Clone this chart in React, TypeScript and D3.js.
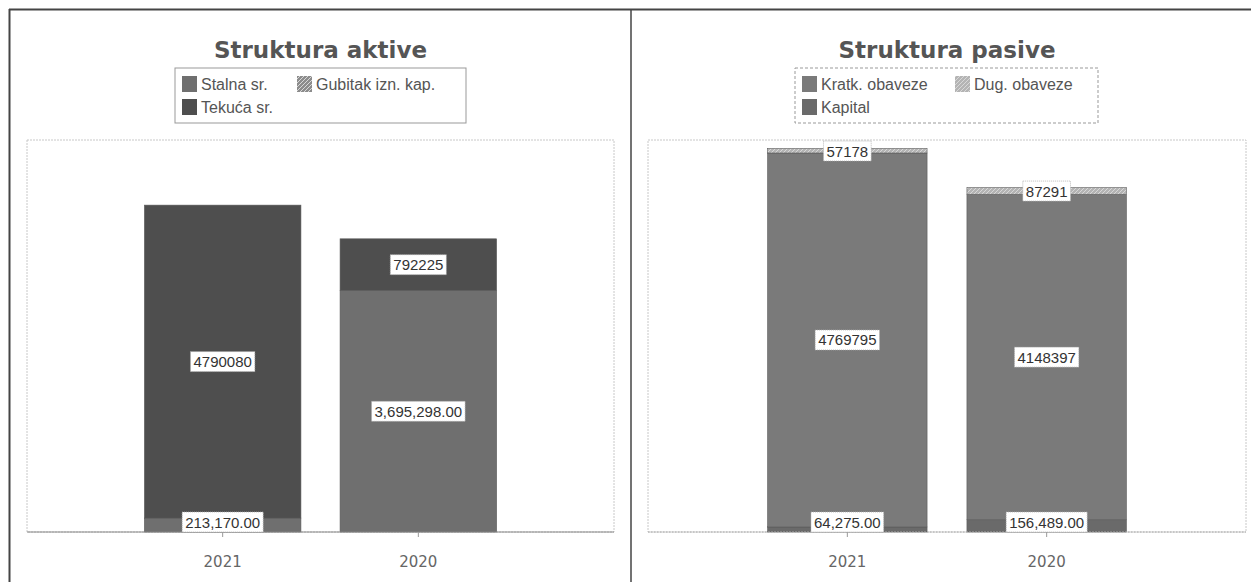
import React from "react";
import * as d3 from "d3";

// ---------- DATA ----------
const categories = ["2021", "2020"];

// Left chart: Struktura aktive
const leftTitle = "Struktura aktive";
const stalnaSr = [213170, 3695298];
const gubitakIznKap = [0, 0];
const tekucaSr = [4790080, 792225];
const leftYMax = 6000000;

// Right chart: Struktura pasive
const rightTitle = "Struktura pasive";
const kapital = [64275, 156489];
const kratkObaveze = [4769795, 4148397];
const dugObaveze = [57178, 87291];
const rightYMax = 5000000;

const fmtComma = d3.format(",.2f");
const fmtPlain = d3.format("d");

type Series = { name: string; values: number[]; color: string; pattern?: boolean; fmt: (v: number) => string };

const leftStack: Series[] = [
  { name: "Stalna sr.", values: stalnaSr, color: "#6f6f6f", fmt: fmtComma },
  { name: "Gubitak izn. kap.", values: gubitakIznKap, color: "#8c8c8c", pattern: true, fmt: fmtPlain },
  { name: "Tekuća sr.", values: tekucaSr, color: "#4e4e4e", fmt: fmtPlain },
];
const leftLegendOrder = ["Stalna sr.", "Gubitak izn. kap.", "Tekuća sr."];

const rightStack: Series[] = [
  { name: "Kapital", values: kapital, color: "#6a6a6a", fmt: fmtComma },
  { name: "Kratk. obaveze", values: kratkObaveze, color: "#7a7a7a", fmt: fmtPlain },
  { name: "Dug. obaveze", values: dugObaveze, color: "#b4b4b4", pattern: true, fmt: fmtPlain },
];
const rightLegendOrder = ["Kratk. obaveze", "Dug. obaveze", "Kapital"];

// ---------- helpers ----------
let _ctx: CanvasRenderingContext2D | null = null;
function textWidth(t: string, font: string) {
  if (!_ctx) _ctx = document.createElement("canvas").getContext("2d");
  if (!_ctx) return t.length * 8;
  _ctx.font = font;
  return _ctx.measureText(t).width;
}

const LABEL_FONT_SIZE = 15;
const LABEL_FONT = `${LABEL_FONT_SIZE}px "Liberation Sans", Arial, sans-serif`;
const LEGEND_FONT_SIZE = 16;
const LEGEND_FONT = `${LEGEND_FONT_SIZE}px "Liberation Sans", Arial, sans-serif`;

type PanelProps = {
  id: string;
  title: string;
  stack: Series[];
  legendOrder: string[];
  yMax: number;
  plot: { x0: number; x1: number; y0: number; y1: number };
  legend: { x: number; y: number; w: number; h: number; col2: number; dashed: boolean };
  axisSolid: boolean;
};

function Panel({ id, title, stack, legendOrder, yMax, plot, legend, axisSolid }: PanelProps) {
  const x = d3.scalePoint<string>().domain(categories).range([plot.x0, plot.x1]).padding(1);
  const step = x.step();
  const barW = step * 0.8;
  const y = d3.scaleLinear().domain([0, yMax]).range([plot.y1, plot.y0]);

  const stackGen = d3
    .stack<number>()
    .keys(stack.map((_, i) => String(i)))
    .value((ci, key) => stack[+key].values[ci]);
  const stacked = stackGen(categories.map((_, i) => i));

  const labelH = 20;
  const cx = (plot.x0 + plot.x1) / 2;

  const legendItems = legendOrder.map((n) => stack.find((s) => s.name === n)!);
  const legendPos = [
    { x: legend.x + 7, y: legend.y + 16 },
    { x: legend.col2, y: legend.y + 16 },
    { x: legend.x + 7, y: legend.y + 39 },
  ];

  return (
    <g>
      <defs>
        {stack
          .filter((s) => s.pattern)
          .map((s) => (
            <pattern key={s.name} id={`${id}-pat`} width="4" height="4" patternUnits="userSpaceOnUse">
              <rect width="4" height="4" fill={s.color} />
              <path d="M0,4 L4,0" stroke="#d8d8d8" strokeWidth="1" />
            </pattern>
          ))}
      </defs>
      {/* title */}
      <text
        x={cx}
        y={58}
        textAnchor="middle"
        fontFamily='"DejaVu Sans", Verdana, sans-serif'
        fontWeight="bold"
        fontSize={23}
        fill="#555"
      >
        {title}
      </text>
      {/* legend */}
      <rect
        x={legend.x}
        y={legend.y}
        width={legend.w}
        height={legend.h}
        fill="#fff"
        stroke="#999"
        strokeWidth={1}
        strokeDasharray={legend.dashed ? "3,2" : undefined}
      />
      {legendItems.map((s, i) => (
        <g key={s.name}>
          <rect
            x={legendPos[i].x}
            y={legendPos[i].y - 8}
            width={15}
            height={16}
            fill={s.pattern ? `url(#${id}-pat)` : s.color}
          />
          <text
            x={legendPos[i].x + 19}
            y={legendPos[i].y + 6}
            fontFamily='"Liberation Sans", Arial, sans-serif'
            fontSize={LEGEND_FONT_SIZE}
            fill="#555"
          >
            {s.name}
          </text>
        </g>
      ))}
      {/* plot area */}
      <rect
        x={plot.x0}
        y={plot.y0}
        width={plot.x1 - plot.x0}
        height={plot.y1 - plot.y0}
        fill="#fff"
        stroke="#c8c8c8"
        strokeWidth={1}
        strokeDasharray="2,1"
      />
      {/* bars */}
      {stacked.map((layer, li) =>
        layer.map((d, ci) => {
          const s = stack[li];
          const v = d[1] - d[0];
          if (v <= 0) return null;
          const bx = x(categories[ci])! - barW / 2;
          return (
            <rect
              key={`${li}-${ci}`}
              x={bx}
              y={y(d[1])}
              width={barW}
              height={y(d[0]) - y(d[1])}
              fill={s.pattern ? `url(#${id}-pat)` : s.color}
              stroke="#5a5a5a"
              strokeWidth={0.6}
            />
          );
        })
      )}
      {/* axis */}
      <line
        x1={plot.x0}
        x2={plot.x1}
        y1={plot.y1}
        y2={plot.y1}
        stroke={axisSolid ? "#888" : "#aaa"}
        strokeWidth={1}
        strokeDasharray={axisSolid ? undefined : "2,1"}
      />
      {categories.map((c) => (
        <g key={c}>
          <line x1={x(c)} x2={x(c)} y1={plot.y1} y2={plot.y1 + 5} stroke="#999" />
          <text
            x={x(c)}
            y={567}
            textAnchor="middle"
            fontFamily='"DejaVu Sans", Verdana, sans-serif'
            fontSize={15}
            fill="#666"
          >
            {c}
          </text>
        </g>
      ))}
      {/* data labels */}
      {stacked.map((layer, li) =>
        layer.map((d, ci) => {
          const s = stack[li];
          const v = d[1] - d[0];
          if (v <= 0) return null;
          const t = s.fmt(v);
          const w = textWidth(t, LABEL_FONT) + 6;
          let ly = (y(d[0]) + y(d[1])) / 2;
          ly = Math.max(plot.y0 + labelH / 2 + 1, Math.min(plot.y1 - labelH / 2, ly));
          const lx = x(categories[ci])!;
          return (
            <g key={`l-${li}-${ci}`}>
              <rect
                x={lx - w / 2}
                y={ly - labelH / 2}
                width={w}
                height={labelH}
                fill="#fff"
                stroke="#aaa"
                strokeWidth={0.8}
                strokeDasharray="1,1"
              />
              <text
                x={lx}
                y={ly + 5.5}
                textAnchor="middle"
                fontFamily='"Liberation Sans", Arial, sans-serif'
                fontSize={LABEL_FONT_SIZE}
                fill="#333"
              >
                {t}
              </text>
            </g>
          );
        })
      )}
    </g>
  );
}

export default function App() {
  return (
    <svg
      width={1251}
      height={582}
      style={{ position: "absolute", left: 0, top: 0, background: "#fff" }}
    >
      <rect x={0} y={0} width={1251} height={582} fill="#fff" />
      <Panel
        id="left"
        title={leftTitle}
        stack={leftStack}
        legendOrder={leftLegendOrder}
        yMax={leftYMax}
        plot={{ x0: 27, x1: 614, y0: 140, y1: 532 }}
        legend={{ x: 175, y: 68, w: 291, h: 55, col2: 297, dashed: false }}
        axisSolid={true}
      />
      <Panel
        id="right"
        title={rightTitle}
        stack={rightStack}
        legendOrder={rightLegendOrder}
        yMax={rightYMax}
        plot={{ x0: 648, x1: 1246, y0: 140, y1: 532 }}
        legend={{ x: 795, y: 68, w: 303, h: 55, col2: 955, dashed: true }}
        axisSolid={false}
      />
      {/* frame */}
      <line x1={9} x2={1251} y1={9.5} y2={9.5} stroke="#444" strokeWidth={2} />
      <line x1={9.5} x2={9.5} y1={9} y2={582} stroke="#444" strokeWidth={2} />
      <line x1={631} x2={631} y1={9} y2={582} stroke="#444" strokeWidth={1.5} />
    </svg>
  );
}
